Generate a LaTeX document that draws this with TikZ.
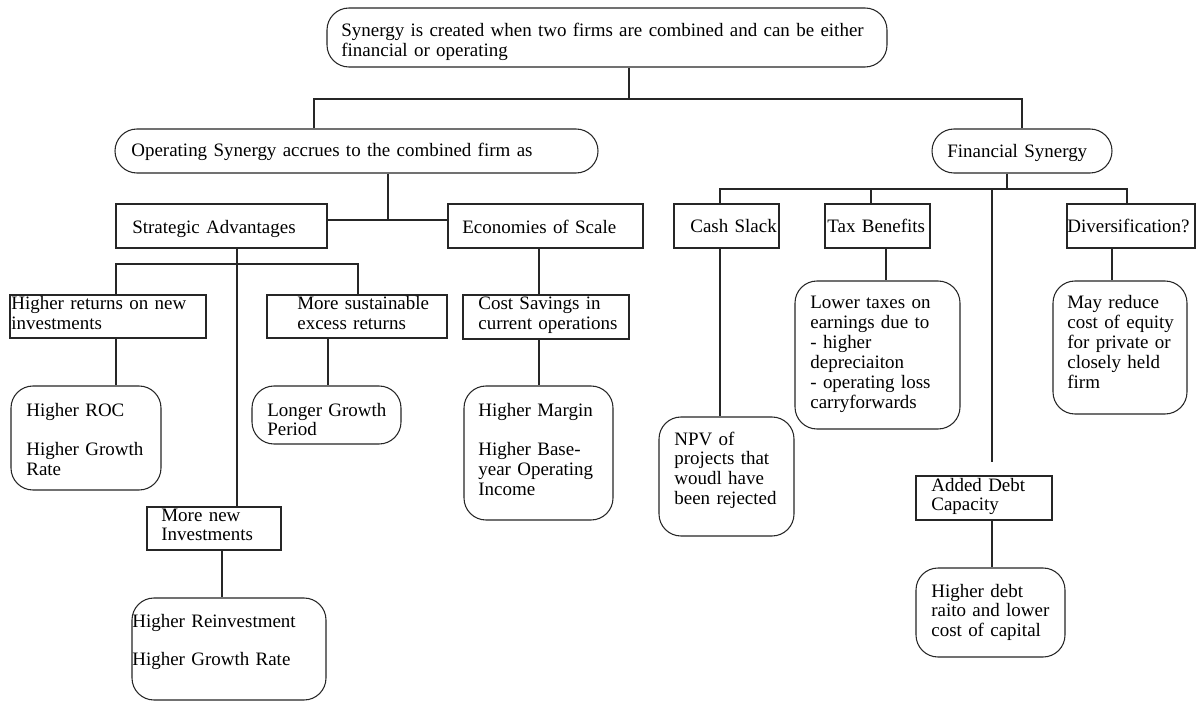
\documentclass[tikz,border=0pt]{standalone}
\usepackage{fontspec}
\setmainfont{Liberation Serif}
\usetikzlibrary{fit}

\tikzset{
  boxline/.style={draw=black!85, line width=0.6pt},
  sqbox/.style={boxline, inner sep=0pt},
  rbox/.style={boxline, inner sep=0pt, rounded corners=0.44cm},
  txt/.style={inner sep=0pt, anchor=base west, align=left, text width=9cm,
              font=\fontsize{10.8}{11.38}\selectfont},
  wire/.style={draw=black!85, line width=0.6pt}
}

\begin{document}
\begin{tikzpicture}[x=0.02cm, y=-0.02cm]
  \useasboundingbox (0,0) rectangle (1196,702);
  \fill[white] (0,0) rectangle (1196,702);

  % ---------- boxes ----------
  \node[rbox, fit={(327,8) (887,67)}]     (top)    {};
  \node[rbox, fit={(115,129) (598,173)}]  (opsyn)  {};
  \node[rbox, fit={(932,129) (1112,173)}] (finsyn) {};

  \node[sqbox, fit={(116,204) (327,248)}]  (strat) {};
  \node[sqbox, fit={(448,204) (643,248)}]  (econ)  {};
  \node[sqbox, fit={(674,204) (779,248)}]  (cash)  {};
  \node[sqbox, fit={(825,204) (930,248)}]  (tax)   {};
  \node[sqbox, fit={(1067,204) (1195,248)}] (div)  {};

  \node[sqbox, fit={(10,295) (206,338)}]   (hiret)  {};
  \node[sqbox, fit={(267,295) (447,338)}]  (sust)   {};
  \node[sqbox, fit={(463,295) (629,339)}]  (cost)   {};
  \node[sqbox, fit={(147,507) (281,550)}]  (newinv) {};
  \node[sqbox, fit={(916,476) (1052,520)}] (debt)   {};

  \node[rbox, fit={(11,386) (161,490)}]    (hroc)   {};
  \node[rbox, fit={(252,386) (401,444)}]   (longer) {};
  \node[rbox, fit={(464,386) (613,520)}]   (margin) {};
  \node[rbox, fit={(659,417) (794,536)}]   (npv)    {};
  \node[rbox, fit={(795,281) (960,429)}]   (lowtax) {};
  \node[rbox, fit={(1053,281) (1187,414)}] (may)    {};
  \node[rbox, fit={(132,598) (326,700)}]   (reinv)  {};
  \node[rbox, fit={(916,568) (1065,657)}]  (hdebt)  {};

  % ---------- texts ----------
  \node[txt, text width=12cm] (ltop) at (341,37)
    {Synergy is created when two firms are combined and can be either\\financial or operating};
  \node[txt] (lopsyn)  at (131,157) {Operating Synergy accrues to the combined firm as};
  \node[txt] (lfinsyn) at (947,158) {Financial Synergy};
  \node[txt] (lstrat)  at (132,234) {Strategic Advantages};
  \node[txt] (lecon)   at (462,234) {Economies of Scale};
  \node[txt] (lcash)   at (690,233) {Cash Slack};
  \node[txt] (ltax)    at (827,233) {Tax Benefits};
  \node[txt] (ldiv)    at (1067,233) {Diversification?};
  \node[txt] (lhiret)  at (11,310)  {Higher returns on new\\investments};
  \node[txt] (lsust)   at (297,310) {More sustainable\\excess returns};
  \node[txt] (lcost)   at (478,310) {Cost Savings in\\current operations};
  \node[txt] (lhroc)   at (26,416)  {Higher ROC\\[11.38pt]Higher Growth\\Rate};
  \node[txt] (llonger) at (267,416) {Longer Growth\\Period};
  \node[txt] (lmargin) at (478,416) {Higher Margin\\[11.38pt]Higher Base-\\year Operating\\Income};
  \node[txt] (lnpv)    at (674,445) {NPV of\\projects that\\woudl have\\been rejected};
  \node[txt] (llowtax) at (810,309) {Lower taxes on\\earnings due to\\- higher\\depreciaiton\\- operating loss\\carryforwards};
  \node[txt] (lmay)    at (1067,309) {May reduce\\cost of equity\\for private or\\closely held\\firm};
  \node[txt] (lnewinv) at (161,521) {More new\\Investments};
  \node[txt] (lreinv)  at (132,627) {Higher Reinvestment\\[10.5pt]Higher Growth Rate};
  \node[txt] (ldebt)   at (931,491) {Added Debt\\Capacity};
  \node[txt] (lhdebt)  at (931,597) {Higher debt\\raito and lower\\cost of capital};

  % ---------- junction points ----------
  \coordinate (j0) at (629,99);
  \coordinate (bL) at (314,99);
  \coordinate (bR) at (1022,99);
  \coordinate (j1) at (388,220);
  \coordinate (sL) at (116,264);
  \coordinate (sR) at (358,264);
  \coordinate (sM) at (237,264);
  \coordinate (xl) at (328,0);
  \coordinate (xe) at (539,0);
  \coordinate (xn) at (222,0);
  \coordinate (fj) at (1007,189);
  \coordinate (fL) at (720,189);
  \coordinate (fR) at (1127,189);
  \coordinate (ft) at (871,189);
  \coordinate (fd) at (992,189);
  \coordinate (fdEnd) at (992,462);
  \coordinate (xt) at (886,0);
  \coordinate (xm) at (1112,0);

  % ---------- connectors ----------
  \draw[wire] (top.south -| j0) -- (j0);
  \draw[wire] (opsyn.north -| bL) -- (bL) -- (bR) -- (finsyn.north -| bR);

  \draw[wire] (opsyn.south -| j1) -- (j1);
  \draw[wire] (strat.east |- j1) -- (econ.west |- j1);

  \draw[wire] (hiret.north -| sL) -- (sL) -- (sR) -- (sust.north -| sR);
  \draw[wire] (strat.south -| sM) -- (newinv.north -| sM);
  \draw[wire] (hiret.south -| sL) -- (hroc.north -| sL);
  \draw[wire] (sust.south -| xl) -- (longer.north -| xl);
  \draw[wire] (newinv.south -| xn) -- (reinv.north -| xn);

  \draw[wire] (econ.south -| xe) -- (cost.north -| xe);
  \draw[wire] (cost.south -| xe) -- (margin.north -| xe);

  \draw[wire] (finsyn.south -| fj) -- (fj);
  \draw[wire] (cash.north -| fL) -- (fL) -- (fR) -- (div.north -| fR);
  \draw[wire] (ft) -- (tax.north -| ft);
  \draw[wire] (fd) -- (fdEnd);
  \draw[wire] (cash.south -| fL) -- (npv.north -| fL);
  \draw[wire] (tax.south -| xt) -- (lowtax.north -| xt);
  \draw[wire] (div.south -| xm) -- (may.north -| xm);
  \draw[wire] (debt.south -| fd) -- (hdebt.north -| fd);
\end{tikzpicture}
\end{document}
